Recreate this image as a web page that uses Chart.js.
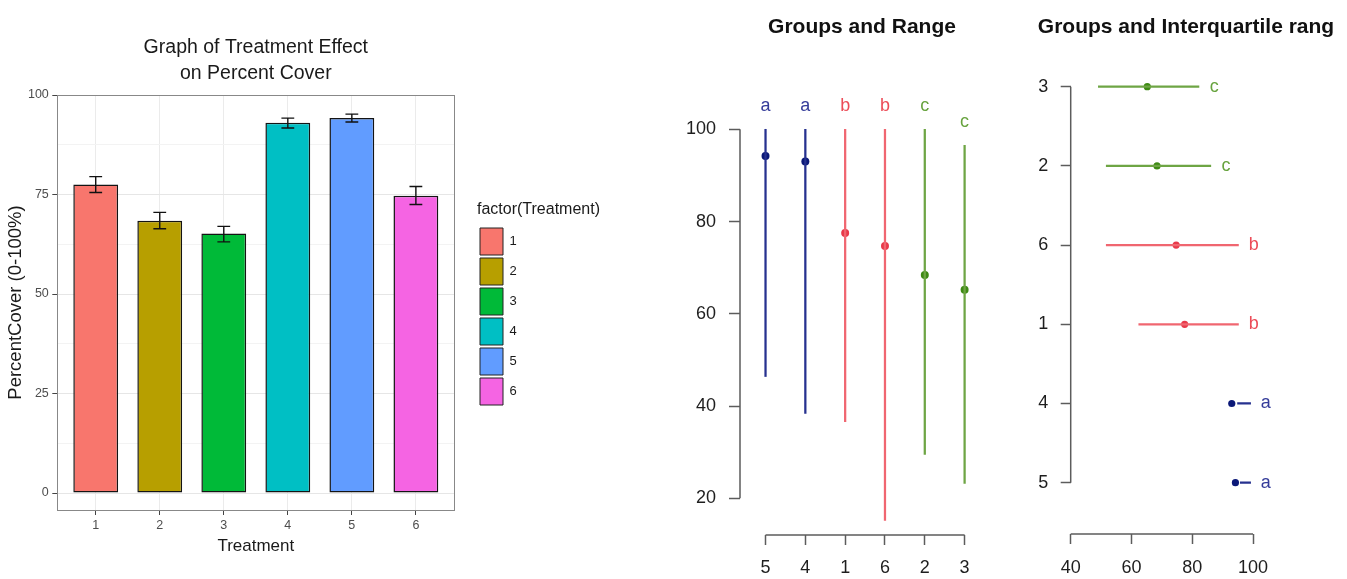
<!DOCTYPE html>
<html>
<head>
<meta charset="utf-8">
<title>Treatment effect on percent cover</title>
<script src="https://cdn.jsdelivr.net/npm/chart.js@4.4.1/dist/chart.umd.min.js"></script>
<style>
  html, body { margin: 0; padding: 0; background: #fff; }
  body { position: relative; width: 1347px; height: 579px; overflow: hidden; }
  canvas { position: absolute; top: 0; }
  #coverBars { left: 0; }
  #groupRange { left: 680px; }
  #groupIqr { left: 1010px; }
</style>
</head>
<body>
<canvas id="coverBars" width="660" height="579"></canvas>
<canvas id="groupRange" width="320" height="579"></canvas>
<canvas id="groupIqr" width="337" height="579"></canvas>
<script>
// per-treatment summaries (treatment 1..6)
const treatments = ['1', '2', '3', '4', '5', '6'];
const meanCover = [77.5, 68.4, 65.2, 93.0, 94.2, 74.7];
const seLow = [75.5, 66.4, 63.1, 91.7, 93.2, 72.5];
const seHigh = [79.5, 70.5, 67.0, 94.2, 95.2, 77.0];
const rangeMin = [36.6, 29.5, 23.2, 38.4, 46.4, 15.2];
const rangeMax = [100, 100, 96.5, 100, 100, 100];
const q1 = [62.4, 51.7, 49.1, 94.9, 95.8, 51.7];
const q3 = [95.2, 86.1, 82.2, 99.2, 99.2, 95.2];
const groupLetter = ['b', 'c', 'c', 'a', 'a', 'b'];

// orderings used by the two group plots
const rangeOrder = ['5', '4', '1', '6', '2', '3'];   // left to right
const iqrOrder = ['3', '2', '6', '1', '4', '5'];     // top to bottom

const coverTicks = [0, 12.5, 25, 37.5, 50, 62.5, 75, 87.5, 100];
const rangeTicks = [20, 40, 60, 80, 100];
const iqrTicks = [40, 60, 80, 100];

// colours
const treatmentFill = ['#F8766D', '#B79F00', '#00BA38', '#00BFC4', '#619CFF', '#F564E3'];
const groupLine = { a: '#26318f', b: '#f06670', c: '#6ea544' };
const groupPoint = { a: '#0b1878', b: '#e8394a', c: '#3e8a14' };
const groupText = { a: '#353c9a', b: '#ec4c58', c: '#67a33e' };

Chart.defaults.font.family = '"Liberation Sans", Arial, Helvetica, sans-serif';
Chart.defaults.animation = false;
Chart.defaults.plugins.tooltip.enabled = false;

const fixedTicks = values => scale => { scale.ticks = values.map(v => ({ value: v })); };

// the legend only sizes itself from its items; leave room for its title too
const legendWidth = minWidth => ({
  id: 'legendWidth',
  beforeLayout(chart) {
    const lg = chart.legend;
    if (!lg || lg._widthPatched) return;
    const fit = lg.fit;
    lg.fit = function () {
      fit.call(this);
      this.width = Math.max(this.width, minWidth);
    };
    lg._widthPatched = true;
  }
});

// ggplot-style error bars on top of each bar
const errorBars = {
  id: 'errorBars',
  afterDatasetsDraw(chart) {
    const { ctx, scales: { x, y } } = chart;
    const half = x.getPixelForValue(1.1) - x.getPixelForValue(1);
    ctx.save();
    ctx.strokeStyle = '#111';
    ctx.lineWidth = 1.4;
    treatments.forEach((t, i) => {
      const px = x.getPixelForValue(i + 1);
      const lo = y.getPixelForValue(seLow[i]);
      const hi = y.getPixelForValue(seHigh[i]);
      ctx.beginPath();
      ctx.moveTo(px, lo); ctx.lineTo(px, hi);
      ctx.moveTo(px - half, lo); ctx.lineTo(px + half, lo);
      ctx.moveTo(px - half, hi); ctx.lineTo(px + half, hi);
      ctx.stroke();
    });
    ctx.restore();
  }
};

// base-graphics style axes: lines only span the tick range
function axisLines(xFrom, xTo, yFrom, yTo) {
  return {
    id: 'axisLines',
    beforeDatasetsDraw(chart) {
      const { ctx, chartArea, scales: { x, y } } = chart;
      ctx.save();
      ctx.strokeStyle = '#5c5c5c';
      ctx.lineWidth = 1.5;
      ctx.beginPath();
      ctx.moveTo(chartArea.left, y.getPixelForValue(yFrom));
      ctx.lineTo(chartArea.left, y.getPixelForValue(yTo));
      ctx.moveTo(x.getPixelForValue(xFrom), chartArea.bottom);
      ctx.lineTo(x.getPixelForValue(xTo), chartArea.bottom);
      ctx.stroke();
      ctx.restore();
    }
  };
}

// group letters written next to each range
function groupLetters(items) {
  return {
    id: 'groupLetters',
    afterDatasetsDraw(chart) {
      const { ctx, scales: { x, y } } = chart;
      ctx.save();
      ctx.font = '18px "Liberation Sans", Arial, sans-serif';
      ctx.textAlign = 'center';
      ctx.textBaseline = 'middle';
      items.forEach(it => {
        ctx.fillStyle = groupText[it.text];
        ctx.fillText(it.text, x.getPixelForValue(it.x), y.getPixelForValue(it.y));
      });
      ctx.restore();
    }
  };
}

const baseTick = { font: { size: 18 }, color: '#1e1e1e' };
const baseGrid = { drawOnChartArea: false, tickLength: 10, tickColor: '#5c5c5c', tickWidth: 1.5, offset: false };

// ---------- bar chart with error bars ----------
new Chart(document.getElementById('coverBars'), {
  type: 'bar',
  data: {
    datasets: [{
      data: treatments.map((t, i) => ({ x: i + 1, y: meanCover[i] })),
      backgroundColor: treatmentFill,
      borderColor: '#141414',
      borderWidth: 1.5,
      borderSkipped: false,
      barPercentage: 0.7,
      categoryPercentage: 1
    }]
  },
  options: {
    responsive: false,
    devicePixelRatio: 1,
    layout: { padding: { right: 53 } },
    plugins: {
      title: {
        display: true,
        fullSize: false,
        text: ['Graph of Treatment Effect', 'on Percent Cover'],
        color: '#1a1a1a',
        font: { size: 19.5, weight: 'normal', lineHeight: 1.3 },
        padding: { top: 35.3, bottom: 9 }
      },
      legend: {
        position: 'right',
        align: 'start',
        title: {
          display: true,
          text: 'factor(Treatment)',
          position: 'start',
          color: '#1a1a1a',
          font: { size: 16 },
          padding: { top: 202, bottom: 3.8 }
        },
        labels: {
          boxWidth: 23,
          boxHeight: 27,
          padding: 3,
          color: '#333',
          font: { size: 13 },
          generateLabels: () => treatments.map((t, i) => ({
            text: t,
            fillStyle: treatmentFill[i],
            strokeStyle: '#222',
            lineWidth: 1,
            hidden: false,
            index: i
          }))
        }
      }
    },
    scales: {
      x: {
        type: 'linear',
        min: 0.4,
        max: 6.6,
        offset: false,
        afterBuildTicks: fixedTicks(treatments.map((t, i) => i + 1)),
        afterFit: s => { s.height = 69; },
        ticks: { callback: v => treatments[v - 1], font: { size: 12.5 }, color: '#4d4d4d', padding: 3 },
        grid: { color: '#ebebeb', tickColor: '#444', tickLength: 5, tickWidth: 1, offset: false },
        border: { display: true, color: '#888' },
        title: { display: true, text: 'Treatment', color: '#1a1a1a', font: { size: 17 }, padding: { top: 22.8, bottom: 22.8 } }
      },
      y: {
        min: -4.27,
        max: 100,
        afterBuildTicks: fixedTicks(coverTicks),
        afterFit: s => { s.width = 57.3; },
        ticks: { callback: v => (v % 25 === 0 ? v : ''), font: { size: 12.5 }, color: '#4d4d4d', padding: 3.5 },
        grid: {
          color: c => (c.tick && c.tick.value % 25 === 0 ? '#e6e6e6' : '#f3f3f3'),
          tickColor: c => (c.tick && c.tick.value % 25 === 0 ? '#444' : 'rgba(0,0,0,0)'),
          tickLength: 5,
          tickWidth: 1
        },
        border: { display: true, color: '#888' },
        title: { display: true, text: 'PercentCover (0-100%)', color: '#1a1a1a', font: { size: 18.5 }, padding: { top: 5, bottom: 5 } }
      },
      xTop: {
        type: 'linear',
        position: 'top',
        ticks: { display: false },
        grid: { display: false },
        border: { display: true, color: '#888' },
        afterFit: s => { s.height = 0; }
      },
      yRight: {
        type: 'linear',
        position: 'right',
        ticks: { display: false },
        grid: { display: false },
        border: { display: true, color: '#888' },
        afterFit: s => { s.width = 22.7; }
      }
    }
  },
  plugins: [errorBars, legendWidth(130)]
});

// ---------- groups and range ----------
const rangeIdx = rangeOrder.map(t => treatments.indexOf(t));
new Chart(document.getElementById('groupRange'), {
  type: 'bar',
  data: {
    datasets: [{
      type: 'bar',
      data: rangeIdx.map((i, j) => ({ x: j + 1, y: [rangeMin[i], rangeMax[i]] })),
      backgroundColor: rangeIdx.map(i => groupLine[groupLetter[i]]),
      borderWidth: 0,
      barThickness: 1.6
    }, {
      type: 'scatter',
      data: rangeIdx.map((i, j) => ({ x: j + 1, y: meanCover[i] })),
      pointBackgroundColor: rangeIdx.map(i => groupPoint[groupLetter[i]]),
      pointBorderWidth: 0,
      pointRadius: 4
    }]
  },
  options: {
    responsive: false,
    devicePixelRatio: 1,
    layout: { padding: { right: 16 } },
    plugins: {
      legend: { display: false },
      title: {
        display: true,
        fullSize: false,
        text: 'Groups and Range',
        color: '#111',
        font: { size: 21, weight: 'bold', lineHeight: 1.2 },
        padding: { top: 14.4, bottom: 50.4 }
      }
    },
    scales: {
      x: {
        type: 'linear',
        min: 0.359,
        max: 6.487,
        offset: false,
        afterBuildTicks: fixedTicks(rangeOrder.map((t, j) => j + 1)),
        afterFit: s => { s.height = 44; },
        ticks: Object.assign({ callback: v => rangeOrder[v - 1], padding: 12 }, baseTick),
        grid: baseGrid,
        border: { display: false }
      },
      y: {
        min: 12.04,
        max: 108.52,
        afterBuildTicks: fixedTicks(rangeTicks),
        afterFit: s => { s.width = 60; },
        ticks: Object.assign({ padding: 13 }, baseTick),
        grid: Object.assign({}, baseGrid, { tickLength: 11 }),
        border: { display: false }
      }
    }
  },
  plugins: [
    axisLines(1, rangeOrder.length, rangeTicks[0], rangeTicks[rangeTicks.length - 1]),
    groupLetters(rangeIdx.map((i, j) => ({ x: j + 1, y: rangeMax[i] + 5, text: groupLetter[i] })))
  ]
});

// ---------- groups and interquartile range ----------
const iqrIdx = iqrOrder.map(t => treatments.indexOf(t));
const iqrPos = k => iqrOrder.length - k;
new Chart(document.getElementById('groupIqr'), {
  type: 'bar',
  data: {
    datasets: [{
      type: 'bar',
      indexAxis: 'y',
      data: iqrIdx.map((i, k) => ({ y: iqrPos(k), x: [q1[i], q3[i]] })),
      backgroundColor: iqrIdx.map(i => groupLine[groupLetter[i]]),
      borderWidth: 0,
      barThickness: 1.6
    }, {
      type: 'scatter',
      data: iqrIdx.map((i, k) => ({ x: meanCover[i], y: iqrPos(k) })),
      pointBackgroundColor: iqrIdx.map(i => groupPoint[groupLetter[i]]),
      pointBorderWidth: 0,
      pointRadius: 3.6
    }]
  },
  options: {
    responsive: false,
    devicePixelRatio: 1,
    layout: { padding: { left: 15, right: 0 } },
    plugins: {
      legend: { display: false },
      title: {
        display: true,
        text: 'Groups and Interquartile rang',
        color: '#111',
        font: { size: 21, weight: 'bold', lineHeight: 1.2 },
        padding: { top: 14.4, bottom: 20.4 }
      }
    },
    scales: {
      x: {
        type: 'linear',
        min: 40,
        max: 129.6,
        offset: false,
        afterBuildTicks: fixedTicks(iqrTicks),
        afterFit: s => { s.height = 45; },
        ticks: Object.assign({ padding: 13 }, baseTick),
        grid: baseGrid,
        border: { display: false }
      },
      y: {
        type: 'linear',
        min: 0.352,
        max: 6.337,
        offset: false,
        afterBuildTicks: fixedTicks(iqrOrder.map((t, k) => iqrPos(k))),
        afterFit: s => { s.width = 45.7; },
        ticks: Object.assign({ callback: v => iqrOrder[iqrOrder.length - v], padding: 12.5 }, baseTick),
        grid: baseGrid,
        border: { display: false }
      }
    }
  },
  plugins: [
    axisLines(iqrTicks[0], iqrTicks[iqrTicks.length - 1], 1, iqrOrder.length),
    groupLetters(iqrIdx.map((i, k) => ({ x: q3[i] + 5, y: iqrPos(k), text: groupLetter[i] })))
  ]
});
</script>
</body>
</html>
